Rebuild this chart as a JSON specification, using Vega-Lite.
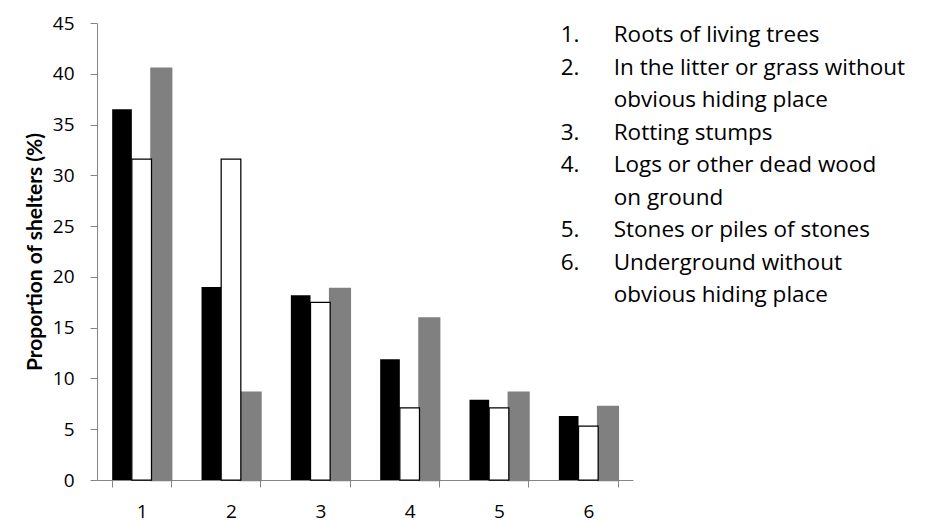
{
  "$schema": "https://vega.github.io/schema/vega-lite/v6.json",
  "autosize": {"type": "none"},
  "padding": {"left": 97, "top": 23, "right": 293, "bottom": 43},
  "width": 536,
  "height": 457,
  "background": "white",
  "config": {
    "view": {"stroke": null},
    "font": "Open Sans",
    "axis": {"labelFont": "Open Sans", "titleFont": "Lato", "labelColor": "#000000", "titleColor": "#000000"}
  },
  "datasets": {
    "bars": [
      {"cat": "1", "series": "A", "value": 36.5},
      {"cat": "2", "series": "A", "value": 19.0},
      {"cat": "3", "series": "A", "value": 18.2},
      {"cat": "4", "series": "A", "value": 11.9},
      {"cat": "5", "series": "A", "value": 7.9},
      {"cat": "6", "series": "A", "value": 6.3},
      {"cat": "1", "series": "C", "value": 40.5},
      {"cat": "2", "series": "C", "value": 8.6},
      {"cat": "3", "series": "C", "value": 18.8},
      {"cat": "4", "series": "C", "value": 15.9},
      {"cat": "5", "series": "C", "value": 8.6},
      {"cat": "6", "series": "C", "value": 7.2},
      {"cat": "1", "series": "B", "value": 31.6},
      {"cat": "2", "series": "B", "value": 31.6},
      {"cat": "3", "series": "B", "value": 17.5},
      {"cat": "4", "series": "B", "value": 7.1},
      {"cat": "5", "series": "B", "value": 7.1},
      {"cat": "6", "series": "B", "value": 5.3}
    ],
    "notes": [
      {"line": 0, "num": "1.", "label": "Roots of living trees"},
      {"line": 1, "num": "2.", "label": "In the litter or grass without"},
      {"line": 2, "num": "", "label": "obvious hiding place"},
      {"line": 3, "num": "3.", "label": "Rotting stumps"},
      {"line": 4, "num": "4.", "label": "Logs or other dead wood"},
      {"line": 5, "num": "", "label": "on ground"},
      {"line": 6, "num": "5.", "label": "Stones or piles of stones"},
      {"line": 7, "num": "6.", "label": "Underground without"},
      {"line": 8, "num": "", "label": "obvious hiding place"}
    ]
  },
  "layer": [
    {
      "data": {"name": "bars"},
      "mark": {"type": "bar"},
      "encoding": {
        "x": {
          "field": "cat", "type": "nominal",
          "scale": {"paddingInner": 0.34, "paddingOuter": 0.17},
          "axis": {
            "title": null, "labelAngle": 0, "tickBand": "extent",
            "domainColor": "#868686", "tickColor": "#868686", "tickSize": 7,
            "labelFontSize": 19, "labelPadding": 15
          }
        },
        "xOffset": {"field": "series", "type": "nominal", "scale": {"domain": ["A", "B", "C"], "paddingInner": 0, "paddingOuter": 0}},
        "y": {
          "field": "value", "type": "quantitative",
          "scale": {"domain": [0, 45], "nice": false},
          "axis": {
            "title": "Proportion of shelters (%)", "values": [0, 5, 10, 15, 20, 25, 30, 35, 40, 45],
            "grid": false, "domainColor": "#868686", "tickColor": "#868686", "tickSize": 7,
            "labelFontSize": 19, "labelPadding": 16,
            "titleFontSize": 21, "titleFontWeight": "bold", "titlePadding": 7
          }
        },
        "color": {"field": "series", "type": "nominal", "scale": {"domain": ["A", "B", "C"], "range": ["#000000", "#ffffff", "#808080"]}, "legend": null},
        "stroke": {"field": "series", "type": "nominal", "scale": {"domain": ["A", "B", "C"], "range": ["#000000", "#000000", "#808080"]}, "legend": null},
        "strokeWidth": {"field": "series", "type": "nominal", "scale": {"domain": ["A", "B", "C"], "range": [0, 2.5, 0]}, "legend": null}
      }
    },
    {
      "data": {"name": "notes"},
      "encoding": {
        "y": {"field": "line", "type": "quantitative", "scale": {"domain": [-0.369, 13.69], "reverse": true, "nice": false, "zero": false}, "axis": null}
      },
      "layer": [
        {
          "mark": {"type": "text", "align": "left", "baseline": "middle", "fontSize": 22.5, "font": "Open Sans"},
          "encoding": {
            "x": {"datum": 86.5, "type": "quantitative", "scale": {"domain": [0, 100], "nice": false, "zero": false}, "axis": null},
            "text": {"field": "num"}
          }
        },
        {
          "mark": {"type": "text", "align": "left", "baseline": "middle", "fontSize": 22.5, "font": "Open Sans"},
          "encoding": {
            "x": {"datum": 96.4, "type": "quantitative", "axis": null},
            "text": {"field": "label"}
          }
        }
      ]
    }
  ],
  "resolve": {"scale": {"x": "independent", "y": "independent", "color": "independent", "stroke": "independent", "strokeWidth": "independent"}}
}
